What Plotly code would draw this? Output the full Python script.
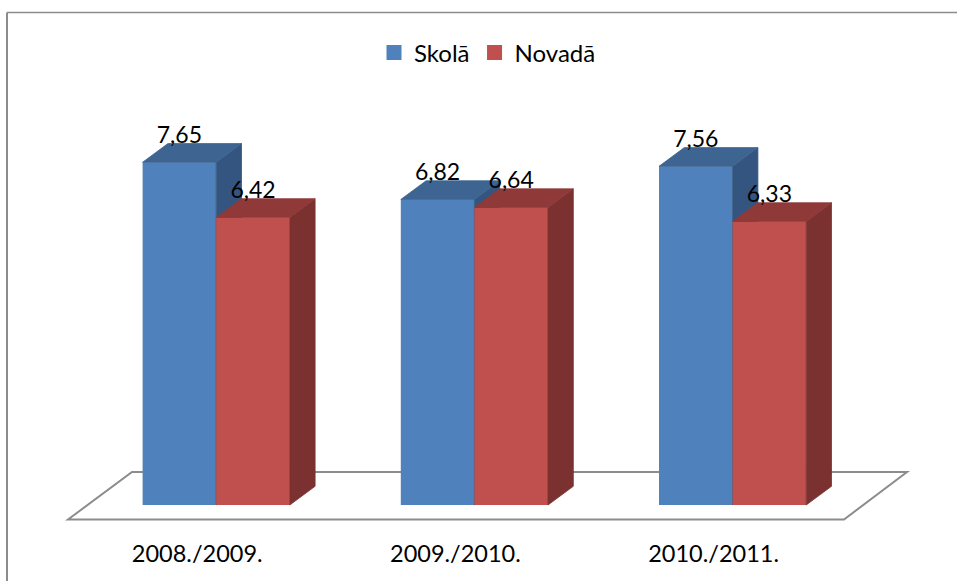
import plotly.graph_objects as go

categories = ["2008./2009.", "2009./2010.", "2010./2011."]
skola = [7.65, 6.82, 7.56]
novada = [6.42, 6.64, 6.33]

# layout constants (pixels)
W, H, BOTTOM = 957, 581, 46
PX_X, PX_Y = 258.2, 44.8
X0_PX, Y0_PX = 216.2, 505
BAR_W = 73.6 / PX_X
DX, DY = 25.3 / PX_X, 18.7 / PX_Y
LABEL_DROP = 5 / PX_Y
TICK_SHIFT = -19 / PX_X
xr = [-X0_PX / PX_X, (W - X0_PX) / PX_X]
yr = [-(H - BOTTOM - Y0_PX) / PX_Y, Y0_PX / PX_Y]
FONT = "Lato"
BLUE, RED = "#4F81BD", "#C0504D"


def faces(vals, left):
    side_x, side_y, top_x, top_y = [], [], [], []
    for i, v in enumerate(vals):
        l = i + left
        r = l + BAR_W
        side_x += [r, r + DX, r + DX, r, r, None]
        side_y += [0, DY, v + DY, v, 0, None]
        top_x += [l, r, r + DX, l + DX, l, None]
        top_y += [v, v, v + DY, v + DY, v, None]
    return side_x, side_y, top_x, top_y


def add_series(fig, vals, left, col, side_col, top_col, xa, ya):
    fig.add_trace(go.Bar(x=list(range(len(vals))), y=vals, width=BAR_W, showlegend=False,
                         offset=left, marker=dict(color=col, line=dict(width=0)),
                         xaxis=xa, yaxis=ya, hoverinfo="skip"))
    sx, sy, tx, ty = faces(vals, left)
    for fx, fy, c in [(sx, sy, side_col), (tx, ty, top_col)]:
        fig.add_trace(go.Scatter(x=fx, y=fy, mode="lines", fill="toself", fillcolor=c,
                                 line=dict(width=0.8, color=c), showlegend=False,
                                 hoverinfo="skip", xaxis=xa, yaxis=ya))


fig = go.Figure()
add_series(fig, skola, -BAR_W, BLUE, "#34557F", "#3E6491", "x", "y")
add_series(fig, novada, 0, RED, "#7B3130", "#8F3A38", "x2", "y2")

for vals, left in [(skola, -BAR_W), (novada, 0)]:
    fig.add_trace(go.Scatter(
        x=[i + left + BAR_W / 2 for i in range(len(vals))],
        y=[v + DY - LABEL_DROP for v in vals],
        mode="text", text=[f"{v:.2f}".replace(".", ",") for v in vals],
        textposition="top center", textfont=dict(family=FONT, size=23, color="#000000"),
        showlegend=False, hoverinfo="skip", cliponaxis=False, xaxis="x2", yaxis="y2"))

# legend entries: square swatches
for name, col in [("Skolā", BLUE), ("Novadā", RED)]:
    fig.add_trace(go.Scatter(x=[None], y=[None], mode="markers", name=name,
                             marker=dict(symbol="square", size=15, color=col),
                             hoverinfo="skip", xaxis="x2", yaxis="y2"))

# floor of the 3-D plot
fl = 14.5 / PX_Y
fb = 33 / PX_Y
floor_path = (f"M {(68 - X0_PX) / PX_X},{-fl} L {(132 - X0_PX) / PX_X},{fb} "
              f"L {(907 - X0_PX) / PX_X},{fb} L {(844 - X0_PX) / PX_X},{-fl} Z")
top_frame = (H - BOTTOM - 12.5) / (H - BOTTOM)
shapes = [
    dict(type="path", path=floor_path, xref="x", yref="y", layer="below",
         line=dict(color="#8C8C8C", width=2), fillcolor="#FFFFFF"),
    dict(type="line", xref="paper", yref="paper", x0=7 / W, x1=1, y0=top_frame, y1=top_frame,
         layer="below", line=dict(color="#8C8C8C", width=1.5)),
    dict(type="line", xref="paper", yref="paper", x0=7 / W, x1=7 / W,
         y0=-BOTTOM / (H - BOTTOM), y1=top_frame,
         layer="below", line=dict(color="#8C8C8C", width=2)),
]
fig.update_layout(
    width=W, height=H, margin=dict(l=0, r=0, t=0, b=BOTTOM),
    paper_bgcolor="#FFFFFF", plot_bgcolor="#FFFFFF",
    font=dict(family=FONT, size=23, color="#000000"),
    showlegend=True,
    legend=dict(orientation="h", x=374 / W, xanchor="left", y=(H - BOTTOM - 53) / (H - BOTTOM),
                yanchor="middle", font=dict(family=FONT, size=24), traceorder="normal",
                itemsizing="trace", bgcolor="rgba(0,0,0,0)"),
    xaxis=dict(range=xr, tickmode="array", tickvals=[i + TICK_SHIFT for i in range(len(categories))],
               ticktext=categories,
               showgrid=False, zeroline=False, showline=False, ticks="", ticklabelstandoff=2,
               tickfont=dict(family=FONT, size=23.5, color="#000000")),
    yaxis=dict(range=yr, visible=False, showgrid=False, zeroline=False),
    xaxis2=dict(range=xr, overlaying="x", visible=False, anchor="y2"),
    yaxis2=dict(range=yr, overlaying="y", visible=False, anchor="x2"),
    shapes=shapes,
)

fig.write_html("out.html", config=dict(displayModeBar=False),
               post_script="document.body.style.margin='0';document.body.style.overflow='hidden';")
